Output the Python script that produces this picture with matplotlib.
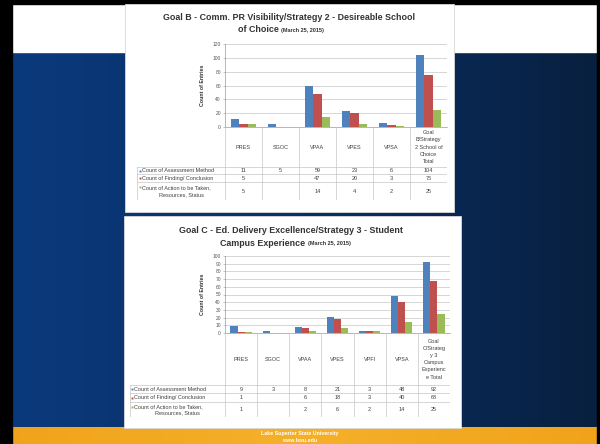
import numpy as np
import matplotlib.pyplot as plt
from matplotlib.patches import Rectangle
from matplotlib.colors import LinearSegmentedColormap

plt.rcParams['font.family'] = ['Liberation Sans', 'DejaVu Sans']

W, H = 600, 444

SERIES = ['Count of Assessment Method', 'Count of Finding/ Conclusion',
          'Count of Action to be Taken,\nResources, Status']
COLORS = ['#4F81BD', '#C0504D', '#9BBB59']

B_CATS = ['PRES', 'SGOC', 'VPAA', 'VPES', 'VPSA',
          'Goal\nB/Strategy\n2 School of\nChoice\nTotal']
B_ASSESS = [11, 5, 59, 23, 6, 104]
B_FINDING = [5, None, 47, 20, 3, 75]
B_ACTION = [5, None, 14, 4, 2, 25]

C_CATS = ['PRES', 'SGOC', 'VPAA', 'VPES', 'VPFI', 'VPSA',
          'Goal\nC/Strateg\ny 3\nCampus\nExperienc\ne Total']
C_ASSESS = [9, 3, 8, 21, 3, 48, 92]
C_FINDING = [1, None, 6, 18, 3, 40, 68]
C_ACTION = [1, None, 2, 6, 2, 14, 25]

TXT = '#404040'
GRID = '#c6c6c6'
FS = 4.0


def px_axes(fig, x0, y0, x1, y1):
    '''axes placed by pixel box (top-left origin)'''
    return fig.add_axes([x0 / W, 1 - y1 / H, (x1 - x0) / W, (y1 - y0) / H])


def bar_chart(fig, box, cats, series, ymax, ystep):
    x0, y0, x1, y1 = box
    ax = px_axes(fig, x0, y0, x1, y1)
    ax.set_facecolor('none')
    n = len(cats)
    x = np.arange(n)
    w = 0.22
    for k, (vals, col) in enumerate(zip(series, COLORS)):
        v = [0 if a is None else a for a in vals]
        ax.bar(x + (k - 1) * w, v, w, color=col, edgecolor='none', zorder=3)
    ax.set_xlim(-0.5, n - 0.5)
    ax.set_ylim(0, ymax)
    ax.set_yticks(range(0, ymax + 1, ystep))
    ax.set_xticks([])
    ax.yaxis.grid(True, color=GRID, lw=0.5)
    ax.set_axisbelow(True)
    for s in ['top', 'right']:
        ax.spines[s].set_visible(False)
    for s in ['left', 'bottom']:
        ax.spines[s].set_color('#9a9a9a')
        ax.spines[s].set_linewidth(0.5)
    ax.tick_params(axis='y', labelsize=3.5, length=1.5, width=0.4,
                   color='#9a9a9a', labelcolor='#555555', pad=1.5)
    fig.text((x0 - 22) / W, 1 - (y0 + y1) / 2 / H, 'Count of Entries',
             rotation=90, fontsize=3.8, fontweight='bold', color='#333333',
             ha='center', va='center')
    return ax


def data_table(fig, left, plot_left, right, top, rows_y, cats, series):
    '''Excel-style data table under the plot; rows_y = row boundaries in px'''
    bottom = rows_y[-1]
    tax = px_axes(fig, left, top, right, bottom)
    tax.set_axis_off()
    n = len(cats)
    lab_w = n * (plot_left - left) / (right - plot_left)
    xl = -0.5 - lab_w
    tax.set_xlim(xl, n - 0.5)
    tax.set_ylim(bottom, top)
    lc = dict(color=GRID, lw=0.5)
    # header row: column separators only
    for i in range(n + 1):
        tax.plot([i - 0.5, i - 0.5], [top, bottom], **lc)
    tax.plot([xl, xl], [rows_y[1], bottom], **lc)
    for y in rows_y[1:]:
        tax.plot([xl, n - 0.5], [y, y], **lc)
    for i, c in enumerate(cats):
        tax.text(i, (top + rows_y[1]) / 2, c, fontsize=FS, color=TXT,
                 ha='center', va='center', linespacing=1.55)
    for r, (label, vals, col) in enumerate(zip(SERIES, series, COLORS)):
        ya, yb = rows_y[r + 1], rows_y[r + 2]
        ym = (ya + yb) / 2
        lines = label.split('\n')
        if len(lines) > 1:
            y1 = ya + (yb - ya) * 0.3
            y2 = ya + (yb - ya) * 0.72
            tax.text(xl + 0.14, y1, lines[0], fontsize=FS, color=TXT,
                     ha='left', va='center')
            tax.text(xl + lab_w / 2, y2, lines[1], fontsize=FS, color=TXT,
                     ha='center', va='center')
            tax.plot(xl + 0.07, y1, 's', ms=1.4, color=col, mec='none')
        else:
            tax.text(xl + 0.14, ym, label, fontsize=FS, color=TXT,
                     ha='left', va='center')
            tax.plot(xl + 0.07, ym, 's', ms=1.4, color=col, mec='none')
        for i, v in enumerate(vals):
            if v is not None:
                tax.text(i, ym, str(v), fontsize=FS, color=TXT,
                         ha='center', va='center')
    return tax


fig = plt.figure(figsize=(W / 100, H / 100), dpi=100)

# slide background
bg = fig.add_axes([0, 0, 1, 1])
bg.set_axis_off()
grad = np.linspace(0, 1, 256)[None, :]
blue = LinearSegmentedColormap.from_list('b', ['#0b3a7d', '#0a2f66', '#08203f'])
bg.imshow(grad, cmap=blue, extent=(0, W, 427, 52), aspect='auto')
bg.add_patch(Rectangle((0, 0), W, 52, color='white'))
orange = LinearSegmentedColormap.from_list('o', ['#f0a31a', '#f5b02a', '#f0a31a'])
bg.imshow(grad, cmap=orange, extent=(0, W, H, 427), aspect='auto')
bg.add_patch(Rectangle((0, 0), 12, H, color='black'))
bg.add_patch(Rectangle((0, 0), W, 4, color='black'))
bg.add_patch(Rectangle((597, 0), 3, H, color='black'))
bg.add_patch(Rectangle((125, 4), 329, 208, facecolor='white', edgecolor='#d8d8d8', lw=0.6))
bg.add_patch(Rectangle((124, 216), 337, 212, facecolor='white', edgecolor='#d8d8d8', lw=0.6))
bg.set_xlim(0, W)
bg.set_ylim(H, 0)
bg.text(300, 433.5, 'Lake Superior State University', color='white', fontsize=3.8,
        fontweight='bold', ha='center', va='center')
bg.text(300, 440.5, 'www.lssu.edu', color='white', fontsize=3.8,
        fontweight='bold', ha='center', va='center')

TFS = 6.4
# chart B
bg.text(289, 17, 'Goal B - Comm. PR Visibility/Strategy 2 - Desireable School',
        fontsize=TFS, fontweight='bold', color='#333333', ha='center', va='center')
bg.text(279, 30, 'of Choice', fontsize=TFS, fontweight='bold', color='#333333',
        ha='right', va='center')
bg.text(281, 30.5, '(March 25, 2015)', fontsize=4.0, fontweight='bold',
        color='#333333', ha='left', va='center')
bar_chart(fig, (225, 44, 447, 127), B_CATS, [B_ASSESS, B_FINDING, B_ACTION], 120, 20)
data_table(fig, 137, 225, 447, 127, [127, 167, 174, 182, 200], B_CATS,
           [B_ASSESS, B_FINDING, B_ACTION])

# chart C
bg.text(291, 230, 'Goal C - Ed. Delivery Excellence/Strategy 3 - Student',
        fontsize=TFS, fontweight='bold', color='#333333', ha='center', va='center')
bg.text(305, 243, 'Campus Experience', fontsize=TFS, fontweight='bold',
        color='#333333', ha='right', va='center')
bg.text(308, 243.5, '(March 25, 2015)', fontsize=4.0, fontweight='bold',
        color='#333333', ha='left', va='center')
bar_chart(fig, (225, 256, 450, 333), C_CATS, [C_ASSESS, C_FINDING, C_ACTION], 100, 10)
data_table(fig, 130, 225, 450, 333, [333, 385, 393, 402, 417], C_CATS,
           [C_ASSESS, C_FINDING, C_ACTION])

fig.savefig('out.png', dpi=100)
